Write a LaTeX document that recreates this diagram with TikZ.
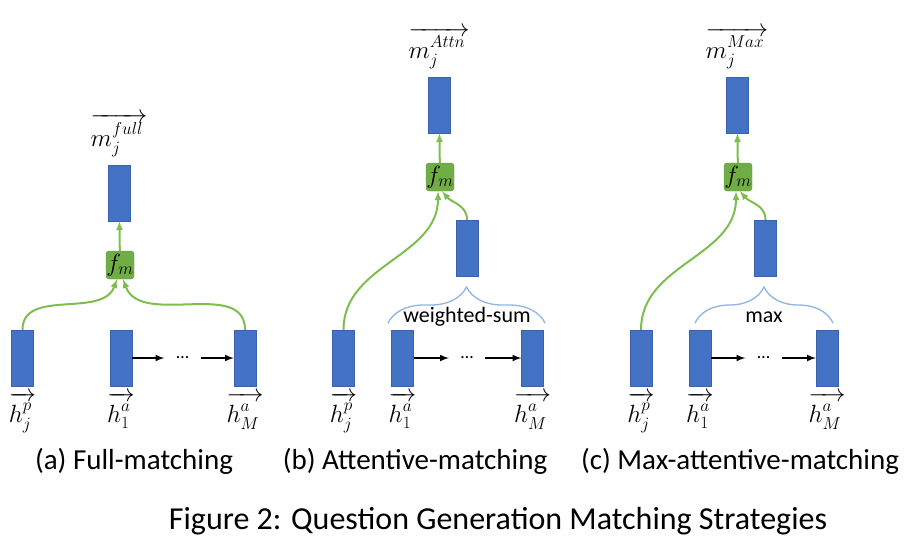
\documentclass[tikz,border=0pt]{standalone}
\usepackage{fontspec}
\setmainfont{Carlito}
\usepackage{amsmath}
\usepackage{tikz}
\usetikzlibrary{arrows,calc,positioning,decorations.pathreplacing}
\definecolor{vecblue}{HTML}{4472C4}
\definecolor{vecedge}{HTML}{3A62AC}
\definecolor{fmgreen}{HTML}{70AD47}
\definecolor{fmedge}{HTML}{5E9A38}
\definecolor{flowgreen}{HTML}{7DBE4F}
\definecolor{bracecol}{HTML}{8DB4E2}
\newcommand{\hvec}[2]{\overrightarrow{\rule{0pt}{21pt}h_{#1}^{\raisebox{2pt}{$\scriptstyle #2$}}\,}}
\newcommand{\mvec}[1]{\overrightarrow{\rule{0pt}{22pt}m_j^{\raisebox{2pt}{$\scriptstyle #1$}}\,}}
\tikzset{
    vec/.style={draw=vecedge, fill=vecblue, minimum width=22pt, minimum height=56pt, inner sep=0pt},
    fm/.style={draw=fmedge, fill=fmgreen, rounded corners=3pt, minimum width=28pt, minimum height=28pt, inner sep=0pt, font=\fontsize{23}{24}\selectfont},
    lab/.style={font=\fontsize{25}{28}\selectfont, inner sep=0pt},
    gap/.style={minimum width=36pt, inner sep=0pt, font=\fontsize{18}{18}\selectfont},
    flow/.style={draw=flowgreen, line width=2pt, -latex},
    seq/.style={draw=black, line width=2pt, -latex},
    agg/.style={draw=bracecol, line width=1.3pt, decorate, decoration={brace, amplitude=36pt}},
    aggtext/.style={font=\fontsize{22}{24}\selectfont, inner sep=0pt},
    captext/.style={font=\fontsize{29}{30}\selectfont, inner sep=0pt},
    figtext/.style={font=\fontsize{32}{34}\selectfont, inner sep=0pt}
}
\begin{document}
\begin{tikzpicture}[x=1pt,y=1pt]
    \useasboundingbox (0,0) rectangle (917,-549);
    % (a) full matching
    \node [vec] (ma) at (119,-193) {};
    \node [lab, above=8pt of ma] (mlaba) {$\mvec{full}$};
    \node [fm] (fa) at (120,-265) {$f_m$};
    \node [vec] (hpa) at (22.5,-358) {};
    \node [vec] (h1a) at (121,-358) {};
    \node [vec] (hMa) at (245,-358) {};
    \node [gap] (da) at (182.5,-358) {\dots};
    \node [lab, below=6pt of hpa] (hplaba) {$\hvec{j}{p}$};
    \node [lab, below=6pt of h1a] (h1laba) {$\hvec{1}{a}$};
    \node [lab, below=6pt of hMa] (hMlaba) {$\hvec{M}{a}$};
    \draw [seq] (h1a) -- (da);
    \draw [seq] (da) -- (hMa);
    \draw [flow] (hpa.north) to [out=90,in=-110] ([xshift=-3pt]fa.south);
    \draw [flow] (hMa.north) to [out=90,in=-70] ([xshift=3pt]fa.south);
    \draw [flow] (fa) -- (ma);
    \node [captext] (capa) at (134,-461) {(a) Full-matching};
    % (b) attentive matching
    \node [vec] (mb) at (439,-105) {};
    \node [lab, above=8pt of mb] (mlabb) {$\mvec{Attn}$};
    \node [fm] (fb) at (440,-177) {$f_m$};
    \node [vec] (sb) at (467,-248) {};
    \node [vec] (hpb) at (343.5,-358) {};
    \node [vec] (h1b) at (402.5,-358) {};
    \node [vec] (hMb) at (532.5,-358) {};
    \node [gap] (db) at (467,-358) {\dots};
    \node [lab, below=6pt of hpb] (hplabb) {$\hvec{j}{p}$};
    \node [lab, below=6pt of h1b] (h1labb) {$\hvec{1}{a}$};
    \node [lab, below=6pt of hMb] (hMlabb) {$\hvec{M}{a}$};
    \draw [seq] (h1b) -- (db);
    \draw [seq] (db) -- (hMb);
    \draw [agg] (388,-323) -- (545,-323);
    \node [aggtext] (wsum) at (467,-317) {weighted-sum};
    \draw [flow] (hpb.north) to [out=90,in=-90] ([xshift=-2pt]fb.south);
    \draw [flow] (sb.north) to [out=90,in=-50] ([xshift=2pt]fb.south);
    \draw [flow] (fb) -- (mb);
    \node [captext] (capb) at (415,-461) {(b) Attentive-matching};
    % (c) max attentive matching
    \node [vec] (mc) at (737,-105) {};
    \node [lab, above=8pt of mc] (mlabc) {$\mvec{Max}$};
    \node [fm] (fc) at (738,-177) {$f_m$};
    \node [vec] (sc) at (765.5,-248) {};
    \node [vec] (hpc) at (641,-358) {};
    \node [vec] (h1c) at (700,-358) {};
    \node [vec] (hMc) at (827,-358) {};
    \node [gap] (dc) at (763.5,-358) {\dots};
    \node [lab, below=6pt of hpc] (hplabc) {$\hvec{j}{p}$};
    \node [lab, below=6pt of h1c] (h1labc) {$\hvec{1}{a}$};
    \node [lab, below=6pt of hMc] (hMlabc) {$\hvec{M}{a}$};
    \draw [seq] (h1c) -- (dc);
    \draw [seq] (dc) -- (hMc);
    \draw [agg] (695,-323) -- (833,-323);
    \node [aggtext] (maxop) at (764,-317) {max};
    \draw [flow] (hpc.north) to [out=90,in=-90] ([xshift=-2pt]fc.south);
    \draw [flow] (sc.north) to [out=90,in=-50] ([xshift=2pt]fc.south);
    \draw [flow] (fc) -- (mc);
    \node [captext] (capc) at (740,-461) {(c) Max-attentive-matching};
    \node [figtext] (fig) at (498,-521) {Figure 2: Question Generation Matching Strategies};
\end{tikzpicture}
\end{document}
